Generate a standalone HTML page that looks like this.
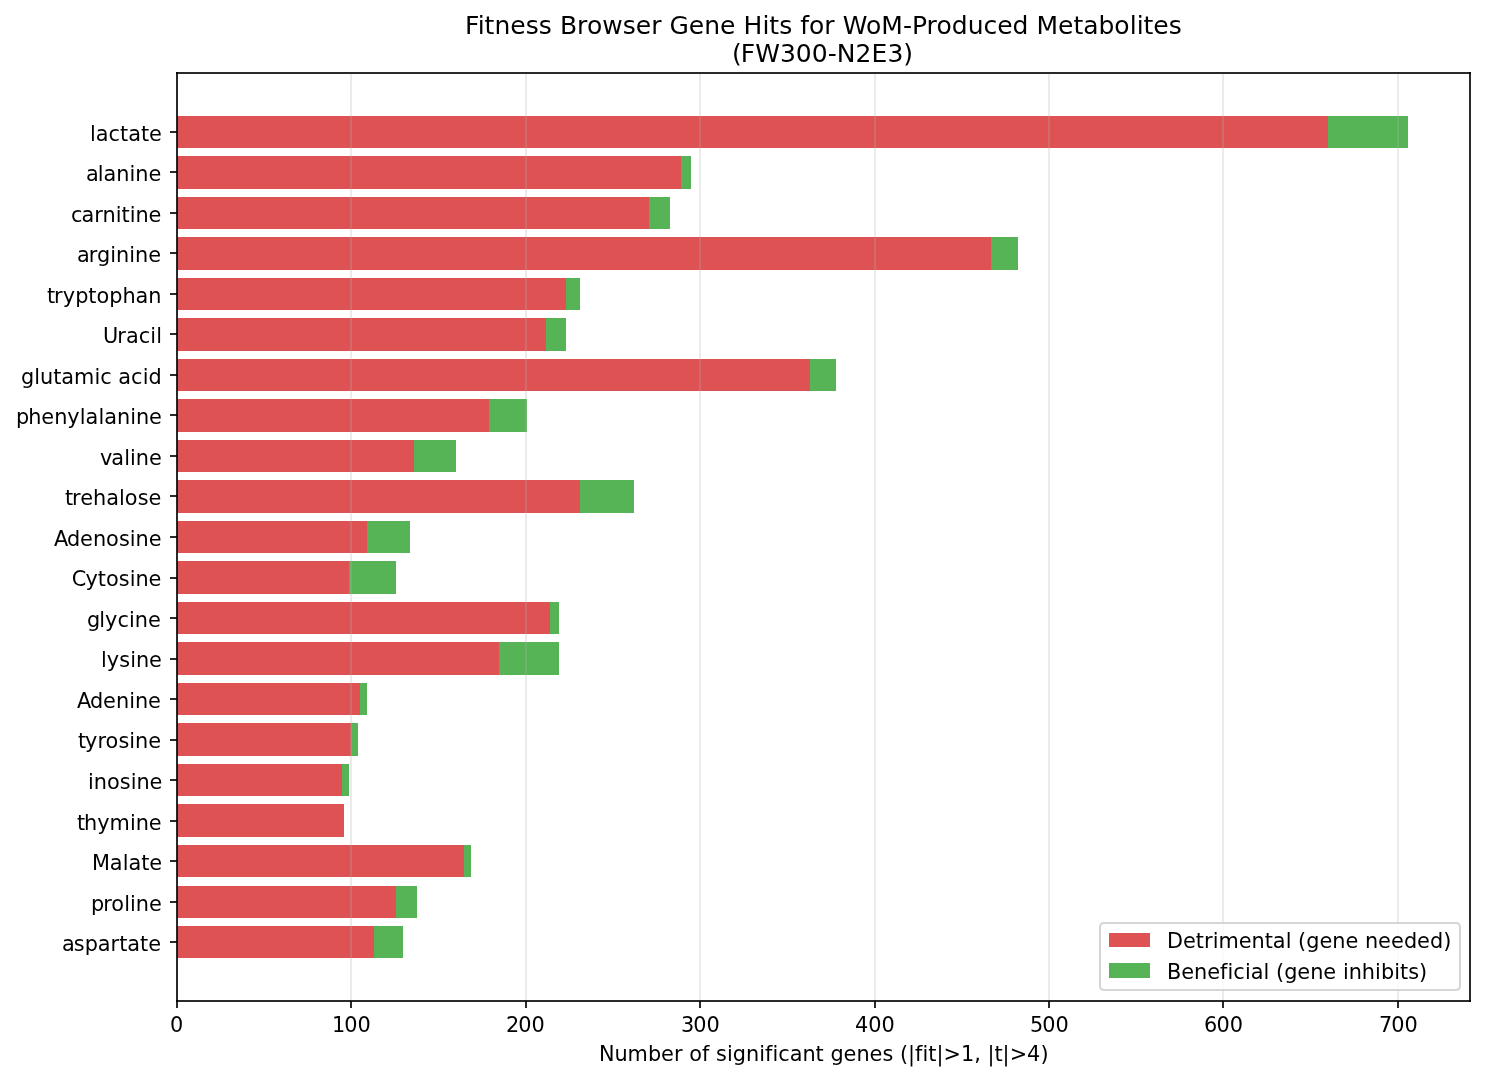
<!DOCTYPE html>
<html lang="en">
<head>
<meta charset="utf-8">
<title>Fitness Browser Gene Hits for WoM-Produced Metabolites (FW300-N2E3)</title>
<style>
html,body{margin:0;padding:0;background:#ffffff;}
body{width:1485px;height:1080px;overflow:hidden;}
svg{display:block;}
text{font-family:"DejaVu Sans","Liberation Sans",sans-serif;fill:#000000;white-space:pre;font-variant-ligatures:none;font-kerning:none;}
.t10{font-size:20.8333px;}
.t12{font-size:25px;}
.det{fill:#d62728;fill-opacity:0.8;}
.ben{fill:#2ca02c;fill-opacity:0.8;}
.grid{fill:#b0b0b0;fill-opacity:0.2532;}
.ink{fill:#000000;fill-opacity:0.835;}
</style>
</head>
<body>
<svg width="1485" height="1080" viewBox="0 0 1485 1080" role="img" aria-label="Stacked horizontal bar chart">
<rect x="0" y="0" width="1485" height="1080" fill="#ffffff"/>
<g id="bars" shape-rendering="crispEdges">
<rect class="det" x="177" y="116" width="1151" height="32"/><rect class="ben" x="1328" y="116" width="80" height="32"/>
<rect class="det" x="177" y="156" width="504" height="33"/><rect class="ben" x="681" y="156" width="10" height="33"/>
<rect class="det" x="177" y="197" width="472" height="32"/><rect class="ben" x="649" y="197" width="21" height="32"/>
<rect class="det" x="177" y="237" width="814" height="33"/><rect class="ben" x="991" y="237" width="27" height="33"/>
<rect class="det" x="177" y="278" width="389" height="32"/><rect class="ben" x="566" y="278" width="14" height="32"/>
<rect class="det" x="177" y="318" width="369" height="33"/><rect class="ben" x="546" y="318" width="20" height="33"/>
<rect class="det" x="177" y="359" width="633" height="32"/><rect class="ben" x="810" y="359" width="26" height="32"/>
<rect class="det" x="177" y="399" width="312" height="33"/><rect class="ben" x="489" y="399" width="38" height="33"/>
<rect class="det" x="177" y="440" width="237" height="32"/><rect class="ben" x="414" y="440" width="42" height="32"/>
<rect class="det" x="177" y="480" width="403" height="33"/><rect class="ben" x="580" y="480" width="54" height="33"/>
<rect class="det" x="177" y="521" width="190" height="32"/><rect class="ben" x="367" y="521" width="43" height="32"/>
<rect class="det" x="177" y="561" width="172" height="33"/><rect class="ben" x="349" y="561" width="47" height="33"/>
<rect class="det" x="177" y="602" width="373" height="32"/><rect class="ben" x="550" y="602" width="9" height="32"/>
<rect class="det" x="177" y="642" width="322" height="33"/><rect class="ben" x="499" y="642" width="60" height="33"/>
<rect class="det" x="177" y="683" width="183" height="32"/><rect class="ben" x="360" y="683" width="7" height="32"/>
<rect class="det" x="177" y="723" width="174" height="33"/><rect class="ben" x="351" y="723" width="7" height="33"/>
<rect class="det" x="177" y="764" width="165" height="32"/><rect class="ben" x="342" y="764" width="7" height="32"/>
<rect class="det" x="177" y="804" width="167" height="33"/>
<rect class="det" x="177" y="845" width="287" height="32"/><rect class="ben" x="464" y="845" width="7" height="32"/>
<rect class="det" x="177" y="886" width="219" height="32"/><rect class="ben" x="396" y="886" width="21" height="32"/>
<rect class="det" x="177" y="926" width="197" height="32"/><rect class="ben" x="374" y="926" width="29" height="32"/>
</g>
<g id="grid" shape-rendering="crispEdges">
<rect class="grid" x="177" y="74" width="1" height="926"/><rect class="grid" x="350" y="74" width="2" height="926"/><rect class="grid" x="525" y="74" width="2" height="926"/><rect class="grid" x="699" y="74" width="2" height="926"/><rect class="grid" x="874" y="74" width="2" height="926"/><rect class="grid" x="1048" y="74" width="2" height="926"/><rect class="grid" x="1222" y="74" width="2" height="926"/><rect class="grid" x="1397" y="74" width="2" height="926"/>
</g>
<g id="ticks" shape-rendering="crispEdges">
<rect class="ink" x="170" y="131" width="7" height="2"/><rect class="ink" x="170" y="171" width="7" height="2"/><rect class="ink" x="170" y="212" width="7" height="2"/><rect class="ink" x="170" y="252" width="7" height="2"/><rect class="ink" x="170" y="293" width="7" height="2"/><rect class="ink" x="170" y="333" width="7" height="2"/><rect class="ink" x="170" y="374" width="7" height="2"/><rect class="ink" x="170" y="414" width="7" height="2"/><rect class="ink" x="170" y="455" width="7" height="2"/><rect class="ink" x="170" y="495" width="7" height="2"/><rect class="ink" x="170" y="536" width="7" height="2"/><rect class="ink" x="170" y="577" width="7" height="2"/><rect class="ink" x="170" y="617" width="7" height="2"/><rect class="ink" x="170" y="658" width="7" height="2"/><rect class="ink" x="170" y="698" width="7" height="2"/><rect class="ink" x="170" y="739" width="7" height="2"/><rect class="ink" x="170" y="779" width="7" height="2"/><rect class="ink" x="170" y="820" width="7" height="2"/><rect class="ink" x="170" y="860" width="7" height="2"/><rect class="ink" x="170" y="901" width="7" height="2"/><rect class="ink" x="170" y="941" width="7" height="2"/>
<rect class="ink" x="176" y="1001" width="2" height="7"/><rect class="ink" x="350" y="1001" width="2" height="7"/><rect class="ink" x="525" y="1001" width="2" height="7"/><rect class="ink" x="699" y="1001" width="2" height="7"/><rect class="ink" x="874" y="1001" width="2" height="7"/><rect class="ink" x="1048" y="1001" width="2" height="7"/><rect class="ink" x="1222" y="1001" width="2" height="7"/><rect class="ink" x="1397" y="1001" width="2" height="7"/>
</g>
<g id="spines" shape-rendering="crispEdges">
<rect class="ink" x="176" y="72" width="2" height="930"/><rect class="ink" x="1469" y="72" width="2" height="930"/><rect class="ink" x="176" y="72" width="1295" height="2"/><rect class="ink" x="176" y="1000" width="1295" height="2"/>
</g>
<g id="legend">
<path d="M1104.167,923 L1455.833,923 Q1460,923 1460,927.167 L1460,985.833 Q1460,990 1455.833,990 L1104.167,990 Q1100,990 1100,985.833 L1100,927.167 Q1100,923 1104.167,923 Z" fill="#ffffff" fill-opacity="0.8" stroke="#cccccc" stroke-opacity="0.8" stroke-width="2.0833" stroke-linejoin="miter"/>
<rect class="det" x="1109" y="933" width="41" height="14" shape-rendering="crispEdges"/>
<rect class="ben" x="1109" y="963" width="41" height="15" shape-rendering="crispEdges"/>
<text class="t10" x="1167 1182.875 1195.75 1204 1212.625 1218.5 1238.75 1251.5 1264.75 1272.75 1285.625 1291.5 1298 1306.25 1319.5 1332.25 1345.5 1358.375 1365 1378 1391 1403.875 1417 1430 1443.25" y="948">Detrimental (gene needed)</text>
<text class="t10" x="1167 1181.25 1194 1207.25 1220 1227.5 1233.25 1245 1250.75 1263.5 1269.5 1276 1284.25 1297.25 1310.25 1323.25 1336.375 1343 1348.75 1361.75 1375 1381 1394.125 1400 1408.125 1419" y="979">Beneficial (gene inhibits)</text>
</g>
<g id="title">
<text class="t12" x="464.979 477.729 484.604 494.479 510.354 525.729 538.729 551.854 559.979 577.104 586.979 602.229 622.729 635.854 651.229 661.604 669.604 688.854 704.229 720.104 735.479 743.479 762.479 769.354 779.229 792.229 800.229 809.104 824.354 834.729 842.729 865.979 881.229 902.979 911.979 926.604 936.479 951.729 967.729 983.479 997.229 1012.604 1028.479 1036.479 1058.104 1073.479 1083.229 1098.479 1114.354 1129.729 1136.729 1143.604 1153.354 1168.729" y="34">Fitness Browser Gene Hits for WoM-Produced Metabolites</text>
<text class="t12" x="731.917 740.792 755.292 780.042 795.792 811.792 827.667 836.792 855.542 871.542 887.417 903.292" y="62">(FW300-N2E3)</text>
</g>
<g id="ytick">
<text class="t10" x="90 95.75 108.5 120 128.25 141 149" y="141">lactate</text>
<text class="t10" x="85.875 97.75 103.5 116.25 129.5 135.25 148.5" y="181">alanine</text>
<text class="t10" x="70.875 81.5 94.25 102.5 115.625 121.5 129.625 135.375 148.5" y="222">carnitine</text>
<text class="t10" x="76.875 88.75 97 110.25 116 129.25 135 148.25" y="262">arginine</text>
<text class="t10" x="46.875 54 62.75 75.125 88.25 96.375 109.25 122.5 135.5 148.25" y="303">tryptophan</text>
<text class="t10" x="102.875 117.25 126 138.75 150.25 156.125" y="343">Uracil</text>
<text class="t10" x="21 34.25 40 53.25 61.25 74 94.375 100.25 111.75 118.25 131 142.625 148.5" y="384">glutamic acid</text>
<text class="t10" x="15.875 28.25 41.25 54.25 67.25 79.75 85.5 98.375 104.25 117 130.125 136 149" y="424">phenylalanine</text>
<text class="t10" x="99.875 111.25 124.125 129.875 135.75 148.875" y="465">valine</text>
<text class="t10" x="64.875 72 80.25 93 106.25 119 124.75 137.625 148.5" y="505">trehalose</text>
<text class="t10" x="53.875 67 80 93 106 118.875 129.75 135.5 148.75" y="546">Adenosine</text>
<text class="t10" x="71.625 85.375 97.75 106 118.75 129.625 135.375 148.5" y="586">Cytosine</text>
<text class="t10" x="86.875 99.25 105 117.5 129 134.75 148" y="627">glycine</text>
<text class="t10" x="101 106.75 119.25 130.125 136 149" y="667">lysine</text>
<text class="t10" x="76.875 90 103 116 129.25 135 148" y="708">Adenine</text>
<text class="t10" x="77.875 85 97.375 105.5 118.375 129.25 135 148.25" y="748">tyrosine</text>
<text class="t10" x="88 93.75 107 119.75 130.625 136.375 149.5" y="789">inosine</text>
<text class="t10" x="76.875 84 97.25 109.5 129.875 135.75 148.75" y="830">thymine</text>
<text class="t10" x="92 109.75 122.625 128.5 141.25 149.25" y="870">Malate</text>
<text class="t10" x="90.875 103.25 111.25 124.125 130 135.75 149" y="911">proline</text>
<text class="t10" x="61.875 73.75 84.625 97.75 110.375 119.25 127.25 140 148.25" y="951">aspartate</text>
</g>
<g id="xtick">
<text class="t10" x="169.958" y="1032">0</text>
<text class="t10" x="331.938 344.188 357.438" y="1032">100</text>
<text class="t10" x="505.917 518.167 531.417" y="1032">200</text>
<text class="t10" x="680.897 693.147 706.397" y="1032">300</text>
<text class="t10" x="854.876 868.126 881.376" y="1032">400</text>
<text class="t10" x="1029.981 1042.231 1055.481" y="1032">500</text>
<text class="t10" x="1203.898 1216.523 1229.773" y="1032">600</text>
<text class="t10" x="1378.94 1391.19 1404.44" y="1032">700</text>
</g>
<g id="xlabel">
<text class="t10" x="598.917 614.417 627.542 647.917 661.042 673.917 682.542 689.167 701.917 709.292 715.917 726.917 732.667 745.917 759.167 764.917 772.417 778.167 789.667 802.417 815.542 823.667 830.417 843.542 856.417 869.542 882.542 893.292 899.917 908.042 915.042 922.542 928.292 936.417 943.417 960.917 974.167 980.792 987.417 994.417 1002.542 1009.667 1027.042 1040.417" y="1061">Number of significant genes (|fit|&gt;1, |t|&gt;4)</text>
</g>
</svg>
</body>
</html>
